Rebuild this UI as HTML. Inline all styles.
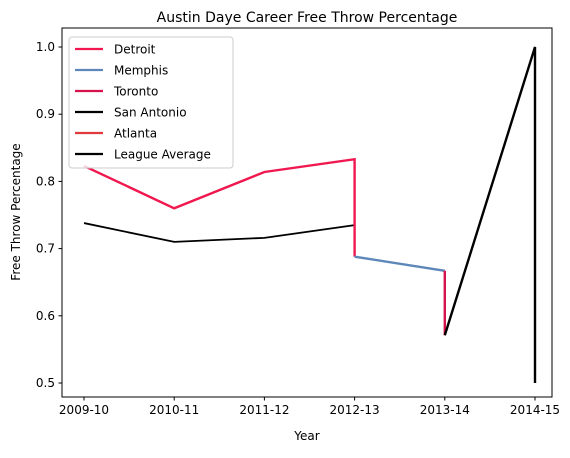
<!DOCTYPE html>
<html><head><meta charset="utf-8"><style>
body{margin:0;background:#fff;font-family:"Liberation Sans","DejaVu Sans",sans-serif}
svg text{font-family:"DejaVu Sans","Liberation Sans",sans-serif;fill:#000}
</style></head><body>
<svg id="c" width="570" height="453" xmlns="http://www.w3.org/2000/svg">
<rect width="570" height="453" fill="#fff"/>
<text x="307" y="22" font-size="14" text-anchor="middle">Austin Daye Career Free Throw Percentage</text>
<g id="ticks"></g>
<g id="lines"></g>
<rect x="62" y="28" width="490" height="369" fill="none" stroke="#000" stroke-width="1"/>
<text x="307" y="440" font-size="12" text-anchor="middle">Year</text>
<text transform="translate(20,212) rotate(-90)" font-size="12" text-anchor="middle">Free Throw Percentage</text>
<g id="legend">
<rect x="69" y="37" width="164" height="131" rx="3" fill="#fff" fill-opacity="0.8" stroke="#ccc"/>
</g>
</svg>
<script>
const xTickLabels=["2009-10","2010-11","2011-12","2012-13","2013-14","2014-15"];
const yTicks=[0.5,0.6,0.7,0.8,0.9,1.0];
const detroitX=[0,1,2,3,3], detroitY=[0.823,0.760,0.814,0.833,0.688];
const memphisX=[3,4], memphisY=[0.688,0.667];
const torontoX=[4,4], torontoY=[0.667,0.571];
const sanAntonioX=[4,5,5], sanAntonioY=[0.571,1.0,0.5];
const atlantaX=[5], atlantaY=[0.5];
const leagueX=[0,1,2,3], leagueY=[0.738,0.710,0.716,0.735];
const seriesNames=["Detroit","Memphis","Toronto","San Antonio","Atlanta","League Average"];
const seriesColors=["#f0184f","#5d87b8","#d5124b","#000000","#e03a3e","#000000"];
const NS="http://www.w3.org/2000/svg";
const xs=i=>84+90.2*i, ys=v=>47+(1-v)*672;
const tg=document.getElementById('ticks'), lg=document.getElementById('lines'), leg=document.getElementById('legend');
function mk(t,a,p){const e=document.createElementNS(NS,t);for(const k in a)e.setAttribute(k,a[k]);p.appendChild(e);return e;}
xTickLabels.forEach((l,i)=>{
 const t=mk('line',{x1:xs(i),x2:xs(i),y1:397,y2:400.5,stroke:'#000'},tg);
 
 
 const tx=mk('text',{x:xs(i),y:414,'font-size':12,'text-anchor':'middle'},tg);tx.textContent=l;
 
 
});
yTicks.forEach(v=>{
 const t=mk('line',{x1:58.5,x2:62,y1:ys(v),y2:ys(v),stroke:'#000'},tg);
 
 
 const tx=mk('text',{x:55,y:ys(v)+4,'font-size':12,'text-anchor':'end'},tg);tx.textContent=v.toFixed(1);
 
 
});
const series=[[detroitX,detroitY,2.4],[memphisX,memphisY,2.4],[torontoX,torontoY,2.4],[sanAntonioX,sanAntonioY,2.4],[atlantaX,atlantaY,2.4],[leagueX,leagueY,1.8]];
const order=[5,0,1,2,3,4];
order.forEach(k=>{
 const [X,Y,w]=series[k];
 const p=mk('polyline',{points:X.map((x,i)=>xs(x)+','+ys(Y[i])).join(' '),fill:'none',stroke:seriesColors[k],'stroke-width':w,'stroke-linejoin':'miter'},lg);
 
 
});
seriesNames.forEach((n,i)=>{
 const y=49+i*21;
 const l=mk('line',{x1:75,x2:103,y1:y,y2:y,stroke:seriesColors[i],'stroke-width':2.2},leg);
 
 
 const t=mk('text',{x:114,y:y+4.5,'font-size':12},leg);t.textContent=n;
 
 
});
</script>
</body></html>
